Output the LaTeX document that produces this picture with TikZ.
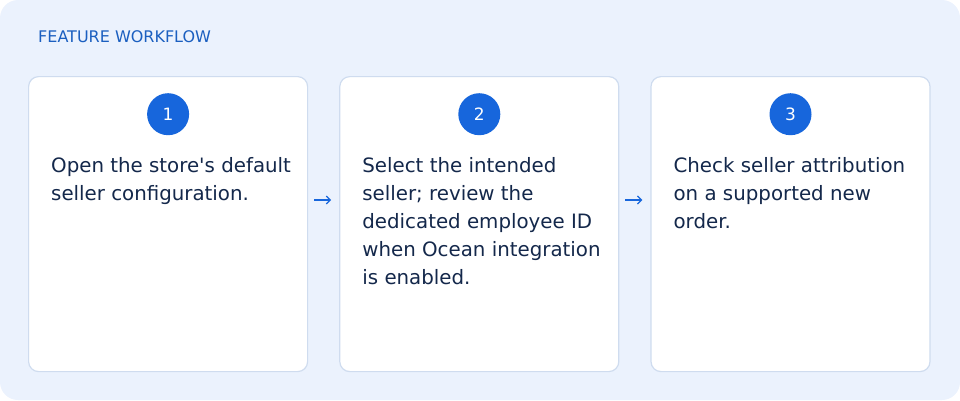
\documentclass[tikz,border=0pt]{standalone}
\usepackage{fontspec}
\setmainfont{DejaVu Sans}
\newfontfamily\uifont{DejaVu Sans}
\usetikzlibrary{positioning,arrows.meta}
\definecolor{panelbg}{HTML}{EBF2FD}
\definecolor{cardline}{HTML}{CFDCEF}
\definecolor{stepblue}{HTML}{1766DC}
\definecolor{titleblue}{HTML}{1B5FC0}
\definecolor{bodytext}{HTML}{14284B}

\begin{document}
\begin{tikzpicture}[x=1pt, y=-1pt, node distance=31pt, auto]
    % Define styles
    \tikzset{card/.style={draw=cardline, line width=1.2pt, fill=white, rounded corners=10pt, minimum width=279pt, minimum height=295pt, anchor=north west}}
    \tikzset{badge/.style={circle, fill=stepblue, text=white, minimum size=42pt, inner sep=0pt, font=\uifont\fontsize{17}{20}\selectfont}}
    \tikzset{steptext/.style={align=left, anchor=north west, inner sep=0pt, text=bodytext, font=\uifont\fontsize{19.8}{28}\selectfont}}
    \tikzset{link/.style={draw=stepblue, line width=1.3pt, -{Straight Barb[length=4pt,width=8pt]}}}

    % Background
    \fill[panelbg, rounded corners=18pt] (0,0) rectangle (960,400);
    \useasboundingbox (0,0) rectangle (960,400);
    \node[anchor=west, text=titleblue, inner sep=0pt, font=\uifont\fontsize{16}{18}\selectfont] (Title) at (38,37) {FEATURE WORKFLOW};

    % Cards
    \node [card] (Card_One) at (28,76) {};
    \node [card, right=of Card_One] (Card_Two) {};
    \node [card, right=of Card_Two] (Card_Three) {};

    % Badges
    \node [badge, below=17pt of Card_One.north] (Badge_One) {1};
    \node [badge, below=17pt of Card_Two.north] (Badge_Two) {2};
    \node [badge, below=17pt of Card_Three.north] (Badge_Three) {3};

    % Texts
    \node [steptext] (Text_One) at ([xshift=23pt, yshift=-81pt]Card_One.north west) {Open the store's default\\seller configuration.};
    \node [steptext] (Text_Two) at ([xshift=23pt, yshift=-81pt]Card_Two.north west) {Select the intended\\seller; review the\\dedicated employee ID\\when Ocean integration\\is enabled.};
    \node [steptext] (Text_Three) at ([xshift=23pt, yshift=-81pt]Card_Three.north west) {Check seller attribution\\on a supported new\\order.};

    % Arrows
    \coordinate (Arrow_One_Start) at ([xshift=6pt, yshift=-124pt]Card_One.north east);
    \coordinate (Arrow_One_End) at ([xshift=-8pt, yshift=-124pt]Card_Two.north west);
    \coordinate (Arrow_Two_Start) at ([xshift=6pt, yshift=-124pt]Card_Two.north east);
    \coordinate (Arrow_Two_End) at ([xshift=-8pt, yshift=-124pt]Card_Three.north west);
    \path [link] (Arrow_One_Start) -- (Arrow_One_End);
    \path [link] (Arrow_Two_Start) -- (Arrow_Two_End);
\end{tikzpicture}
\end{document}
